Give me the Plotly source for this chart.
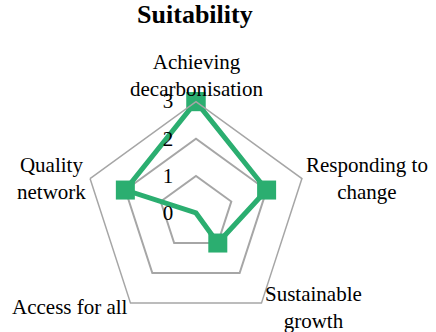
import plotly.graph_objects as go

# Datos
categorias = ['Achieving decarbonisation', 'Responding to change', 'Sustainable growth',
              'Access for all', 'Quality network']
etiquetas = ['Achieving<br>decarbonisation', 'Responding to<br>change', 'Sustainable<br>growth',
             'Access for all', 'Quality<br>network']
valores = [3, 2, 1, 0, 2]
ticks_r = [0, 1, 2, 3]

# posiciones de las etiquetas de los ejes (px desde arriba-izquierda)
pos_etiquetas = [(196, 76), (367, 178), (313, 307), (70, 307), (51, 178)]

verde = '#2bae70'
gris = '#a6a6a6'
W, H = 436, 332

fig = go.Figure()
fig.add_trace(go.Scatterpolar(
    r=valores + valores[:1],
    theta=categorias + categorias[:1],
    mode='lines+markers',
    line=dict(color=verde, width=5),
    marker=dict(symbol='square', size=19, color=verde),
    showlegend=False,
    hoverinfo='skip',
))

for txt, (px_, py_) in zip(etiquetas, pos_etiquetas):
    fig.add_annotation(text=txt, x=px_ / W, y=1 - py_ / H, xref='paper', yref='paper',
                       xanchor='center', yanchor='middle', align='center',
                       showarrow=False, font=dict(size=21))

fig.update_layout(
    width=W, height=H,
    margin=dict(l=0, r=0, t=0, b=0),
    paper_bgcolor='white',
    font=dict(family='Liberation Serif', size=21, color='black'),
    title=dict(text='<b>Suitability</b>', x=0.447, y=0.958, xanchor='center', yanchor='middle',
               font=dict(size=26)),
    polar=dict(
        domain=dict(x=[0.194, 0.705], y=[0.0223, 0.6946]),
        gridshape='linear',
        bgcolor='white',
        radialaxis=dict(
            range=[0, 3], tickvals=ticks_r, angle=90, tickangle=90,
            side='counterclockwise',
            showline=False, gridcolor=gris, gridwidth=1.5,
            ticks='outside', ticklen=15, tickcolor='rgba(0,0,0,0)',
            tickfont=dict(size=21),
        ),
        angularaxis=dict(
            rotation=90, direction='clockwise',
            showgrid=False, showline=True, linecolor=gris, linewidth=1.5,
            ticks='', showticklabels=False,
        ),
    ),
)

# quitar el margen por defecto del <body> y la barra de herramientas
fig.write_html('out.html', config={'displayModeBar': False},
               post_script="document.body.style.margin='0';")
